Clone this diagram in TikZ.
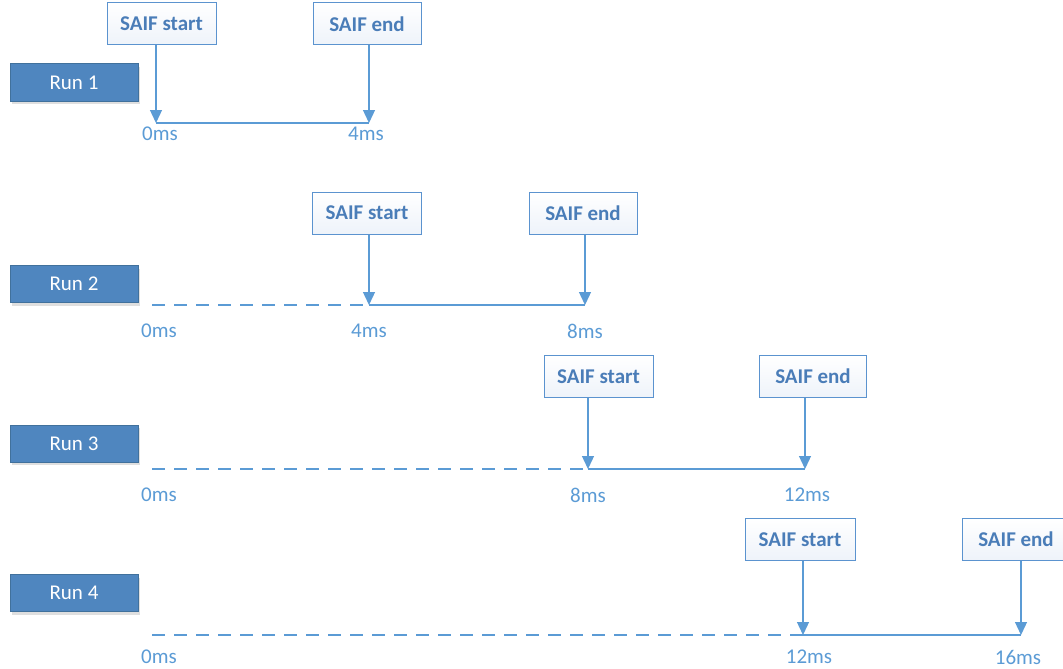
\documentclass[tikz,border=0pt]{standalone}
\usepackage{fontspec}
\setmainfont{Carlito}
\usetikzlibrary{arrows.meta,shadows}
\definecolor{lineblue}{HTML}{5B9BD5}
\definecolor{textblue}{HTML}{4A7DB8}
\definecolor{runfill}{HTML}{4F86BF}
\definecolor{runborder}{HTML}{41719C}
\definecolor{saifborder}{HTML}{5B93CF}
\definecolor{saiffill}{HTML}{EEF3FA}
\tikzset{
  runbox/.style={draw=runborder, line width=1pt, fill=runfill, text=white,
    minimum width=128pt, minimum height=37pt, inner sep=0pt,
    font=\fontsize{21}{25}\selectfont,
    drop shadow={shadow xshift=2pt, shadow yshift=-3pt, opacity=0.25, fill=gray}},
  saifbox/.style={draw=saifborder, line width=1pt, top color=white, bottom color=saiffill,
    text=textblue, minimum height=42pt, inner xsep=0pt, inner sep=0pt,
    font=\fontsize{21}{25}\selectfont\bfseries},
  tlabel/.style={text=lineblue, font=\fontsize{21}{25}\selectfont, inner sep=0pt},
  tline/.style={draw=lineblue, line width=1.3pt},
  dline/.style={draw=lineblue, line width=1.3pt, dash pattern=on 13pt off 9pt},
  tarrow/.style={draw=lineblue, line width=1.3pt, -{Triangle[length=13pt,width=12pt]}},
}
\begin{document}
\begin{tikzpicture}[x=1pt,y=-1pt]
\useasboundingbox (0,0) rectangle (1063,669);
\clip (0,0) rectangle (1063,669);
% ---------- Run 1
\node[runbox] (r1) at (74,82.5) {Run 1};
\node[saifbox, minimum width=109pt] (s1) at (161.5,24) {SAIF start};
\node[saifbox, minimum width=108pt] (e1) at (367,24) {SAIF end};
\coordinate (a1) at (156,123);
\coordinate (b1) at (369,123);
\draw[tline] (a1) -- (b1);
\draw[tarrow] (s1.south -| a1) -- (a1);
\draw[tarrow] (e1.south -| b1) -- (b1);
\node[tlabel] (l10) at (160,134) {0ms};
\node[tlabel] (l11) at (366,134) {4ms};
% ---------- Run 2
\node[runbox] (r2) at (74,284) {Run 2};
\node[saifbox, minimum width=109pt] (s2) at (367,213) {SAIF start};
\node[saifbox, minimum width=108pt] (e2) at (583,213) {SAIF end};
\coordinate (z2) at (152,305);
\coordinate (a2) at (369,305);
\coordinate (b2) at (585,305);
\draw[dline] (z2) -- (a2);
\draw[tline] (a2) -- (b2);
\draw[tarrow] (s2.south -| a2) -- (a2);
\draw[tarrow] (e2.south -| b2) -- (b2);
\node[tlabel] (l20) at (159,331) {0ms};
\node[tlabel] (l21) at (369,331) {4ms};
\node[tlabel] (l22) at (585,331) {8ms};
% ---------- Run 3
\node[runbox] (r3) at (74,443.5) {Run 3};
\node[saifbox, minimum width=109pt] (s3) at (598.5,376.5) {SAIF start};
\node[saifbox, minimum width=107pt] (e3) at (813,376.5) {SAIF end};
\coordinate (z3) at (152,469);
\coordinate (a3) at (588,469);
\coordinate (b3) at (805,469);
\draw[dline] (z3) -- (a3);
\draw[tline] (a3) -- (b3);
\draw[tarrow] (s3.south -| a3) -- (a3);
\draw[tarrow] (e3.south -| b3) -- (b3);
\node[tlabel] (l30) at (159,495) {0ms};
\node[tlabel] (l31) at (588,495) {8ms};
\node[tlabel] (l32) at (807,495) {12ms};
% ---------- Run 4
\node[runbox] (r4) at (74,593) {Run 4};
\node[saifbox, minimum width=110pt] (s4) at (800,539.5) {SAIF start};
\node[saifbox, minimum width=108pt] (e4) at (1016,539.5) {SAIF end};
\coordinate (z4) at (152,635);
\coordinate (a4) at (803,635);
\coordinate (b4) at (1021,635);
\draw[dline] (z4) -- (a4);
\draw[tline] (a4) -- (b4);
\draw[tarrow] (s4.south -| a4) -- (a4);
\draw[tarrow] (e4.south -| b4) -- (b4);
\node[tlabel] (l40) at (159,657) {0ms};
\node[tlabel] (l41) at (809,657) {12ms};
\node[tlabel] (l42) at (1018,657) {16ms};
\end{tikzpicture}
\end{document}
